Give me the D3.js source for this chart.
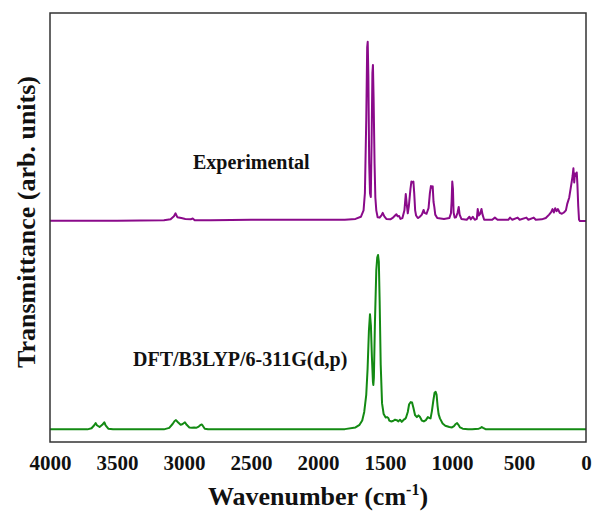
<!DOCTYPE html>
<html>
<head>
<meta charset="utf-8">
<script src="https://cdn.jsdelivr.net/npm/d3@7"></script>
<style>
  body { margin: 0; background: #fff; }
  text { font-family: "Liberation Serif", "Times New Roman", serif; font-weight: bold; fill: #111; }
</style>
</head>
<body>
<div id="chart"></div>
<script>
var svgWidth = 593;
var svgHeight = 511;

var margin = { top: 13, right: 7, bottom: 69, left: 50 };

var width = svgWidth - margin.left - margin.right;
var height = svgHeight - margin.top - margin.bottom;

// Tick labels of the x axis
var xTicks = [4000, 3500, 3000, 2500, 2000, 1500, 1000, 500, 0];

// Experimental spectrum (wavenumber, transmittance in arb. units)
var expWn = [4000, 3500, 3150, 3100, 3075, 3063, 3050, 3020, 2990, 2950, 2935, 2920, 2800, 2500, 2000, 1800,
  1720, 1680, 1660, 1650, 1640, 1633, 1629, 1624, 1618, 1612, 1606, 1600, 1594, 1590, 1585, 1578, 1572, 1565,
  1555, 1540, 1525, 1517, 1505, 1490, 1460, 1440, 1425, 1415, 1405, 1395, 1385, 1370, 1355, 1345, 1338, 1330,
  1322, 1310, 1303, 1295, 1288, 1282, 1275, 1268, 1255, 1240, 1225, 1212, 1205, 1190, 1175, 1165, 1157, 1150,
  1144, 1138, 1132, 1125, 1110, 1060, 1020, 1008, 1003, 998, 993, 988, 980, 970, 958, 950, 943, 930, 890, 870,
  860, 845, 830, 815, 808, 800, 790, 780, 772, 760, 700, 680, 660, 580, 567, 550, 510, 495, 445, 430, 390, 375,
  330, 300, 275, 260, 250, 240, 230, 220, 210, 195, 180, 165, 150, 140, 125, 110, 100, 94, 88, 82, 75, 69, 64,
  58, 52, 45, 0];
var expT = [51.6, 51.6, 51.7, 51.9, 52.6, 53.3, 52.4, 52.2, 52.0, 51.9, 52.1, 51.7, 51.7, 51.8, 51.8, 51.8,
  52.0, 52.5, 54, 58, 75, 92, 93.3, 85, 65, 58, 57.1, 70, 86, 87.9, 80, 65, 57, 54,
  52.4, 52.3, 52.9, 53.4, 52.6, 52.0, 51.9, 52.3, 52.8, 53.1, 52.6, 52.7, 52.0, 52.2, 54, 57.8, 55.5, 53.3,
  55, 59, 60.7, 60.5, 60.7, 58, 54, 52.8, 52.2, 52.5, 53, 54.1, 53.4, 53.2, 54.5, 58, 59.7, 59.3,
  59.6, 56, 54.8, 53, 52.2, 52.0, 52.2, 53.3, 56, 60.7, 59, 53.5, 52.3, 52.4, 53.5, 54.8, 53, 52.0, 51.8, 52.5,
  51.9, 52.5, 51.8, 52, 54.3, 52.8, 53.2, 54.3, 53, 51.8, 51.8, 52.3, 51.8, 51.8, 52.3, 51.8, 52.3, 51.8, 52.3, 51.8, 52.3, 51.8,
  51.9, 52.2, 53.0, 53.6, 54.3, 53.5, 54.5, 53.8, 54.3, 53.4, 53.2, 53.5, 54, 55.5, 57, 60, 62, 63.8, 60.5, 62.6, 62, 62.8, 60,
  55, 51.8, 51.5, 51.5];

// DFT/B3LYP/6-311G(d,p) spectrum (wavenumber, transmittance in arb. units)
var dftWn = [4000, 3720, 3690, 3670, 3659, 3650, 3630, 3610, 3595, 3585, 3565, 3530, 3150, 3110, 3085, 3070,
  3060, 3045, 3025, 3010, 2993, 2980, 2960, 2940, 2925, 2910, 2890, 2875, 2868, 2860, 2845, 2820, 2000, 1800,
  1720, 1690, 1670, 1655, 1640, 1630, 1620, 1612, 1605, 1598, 1590, 1587, 1583, 1575, 1565, 1558, 1552, 1546,
  1540, 1532, 1522, 1510, 1495, 1485, 1475, 1468, 1455, 1440, 1425, 1413, 1400, 1388, 1375, 1360, 1350, 1343,
  1330, 1320, 1308, 1298, 1288, 1276, 1262, 1250, 1240, 1225, 1210, 1195, 1180, 1170, 1160, 1150, 1140, 1130,
  1122, 1115, 1108, 1100, 1090, 1070, 1050, 1020, 1000, 985, 972, 962, 952, 940, 920, 880, 850, 800, 785, 778,
  768, 750, 700, 0];
var dftT = [2.95, 2.95, 3.2, 3.9, 4.4, 3.9, 3.5, 4.0, 4.6, 3.9, 3.1, 2.95, 2.95, 3.3, 4.2, 4.9,
  5.1, 4.6, 4.0, 4.2, 4.6, 4.0, 3.4, 3.3, 3.4, 3.3, 3.6, 4.0, 4.1, 3.8, 3.1, 2.95, 2.95, 3.0,
  3.4, 4.0, 5.0, 7, 11, 17, 26, 29.8, 27, 20, 14, 13.3, 15, 28, 40, 43, 43.6, 42,
  33, 18, 9, 6.5, 5.7, 5.8, 5.6, 5.0, 4.8, 4.9, 5.2, 5.1, 4.8, 5.2, 4.7, 5.2, 5.4, 5.7,
  7, 8.8, 9.3, 9.2, 8.0, 6.3, 5.8, 6.2, 5.9, 5.0, 4.8, 5.1, 5.8, 5.6, 5.5, 7.2, 9.5, 11.5,
  11.7, 11, 8.5, 6.5, 5.5, 4.3, 3.8, 3.5, 3.4, 3.7, 4.2, 4.4, 4.0, 3.4, 3.1, 3.0, 3.0, 3.1, 3.3, 3.5,
  3.3, 3.0, 2.95, 2.95];

var seriesNames = ["Experimental", "DFT/B3LYP/6-311G(d,p)"];
var seriesColors = ["#8a0a8a", "#138a13"];

var svg = d3.select("#chart")
  .append("svg")
  .attr("width", svgWidth)
  .attr("height", svgHeight);

var chartGroup = svg.append("g")
  .attr("transform", `translate(${margin.left}, ${margin.top})`);

// Scales
var xScale = d3.scaleLinear()
  .domain([4000, 0])
  .range([0, width]);

var yScale = d3.scaleLinear()
  .domain([0, 100])
  .range([height, 0]);

// Lines
var line = d3.line()
  .x(d => xScale(d[0]))
  .y(d => yScale(d[1]));

var expData = expWn.map((w, i) => [w, expT[i]]);
var dftData = dftWn.map((w, i) => [w, dftT[i]]);

chartGroup.append("path")
  .datum(expData)
  .attr("fill", "none")
  .attr("stroke", seriesColors[0])
  .attr("stroke-width", 2)
  .attr("stroke-linejoin", "round")
  .attr("d", line);

chartGroup.append("path")
  .datum(dftData)
  .attr("fill", "none")
  .attr("stroke", seriesColors[1])
  .attr("stroke-width", 2)
  .attr("stroke-linejoin", "round")
  .attr("d", line);

// Frame
chartGroup.append("rect")
  .attr("x", 0)
  .attr("y", 0)
  .attr("width", width)
  .attr("height", height)
  .attr("fill", "none")
  .attr("stroke", "#333")
  .attr("stroke-width", 1.5);

// x axis
var bottomAxis = d3.axisBottom(xScale)
  .tickValues(xTicks)
  .tickFormat(d3.format("d"))
  .tickSize(0)
  .tickPadding(13);

var xAxisG = chartGroup.append("g")
  .attr("transform", `translate(0, ${height})`)
  .call(bottomAxis);
xAxisG.select(".domain").remove();
xAxisG.selectAll("text")
  .attr("font-family", "Liberation Serif")
  .attr("font-weight", "bold")
  .attr("font-size", "21px")
  .attr("fill", "#111");

// Series labels
chartGroup.append("text")
  .attr("x", 193 - margin.left)
  .attr("y", 169 - margin.top)
  .attr("font-size", "20px")
  .text(seriesNames[0]);

chartGroup.append("text")
  .attr("x", 133 - margin.left)
  .attr("y", 366 - margin.top)
  .attr("font-size", "20px")
  .text(seriesNames[1]);

// Axis labels
var xLabel = svg.append("text")
  .attr("x", 318)
  .attr("y", 505)
  .attr("text-anchor", "middle")
  .attr("font-size", "26px");
xLabel.append("tspan").text("Wavenumber (cm");
xLabel.append("tspan").attr("font-size", "16px").attr("dy", "-10").text("-1");
xLabel.append("tspan").attr("dy", "10").text(")");

svg.append("text")
  .attr("transform", "translate(35, 222) rotate(-90)")
  .attr("text-anchor", "middle")
  .attr("font-size", "26px")
  .text("Transmittance (arb. units)");
</script>
</body>
</html>
